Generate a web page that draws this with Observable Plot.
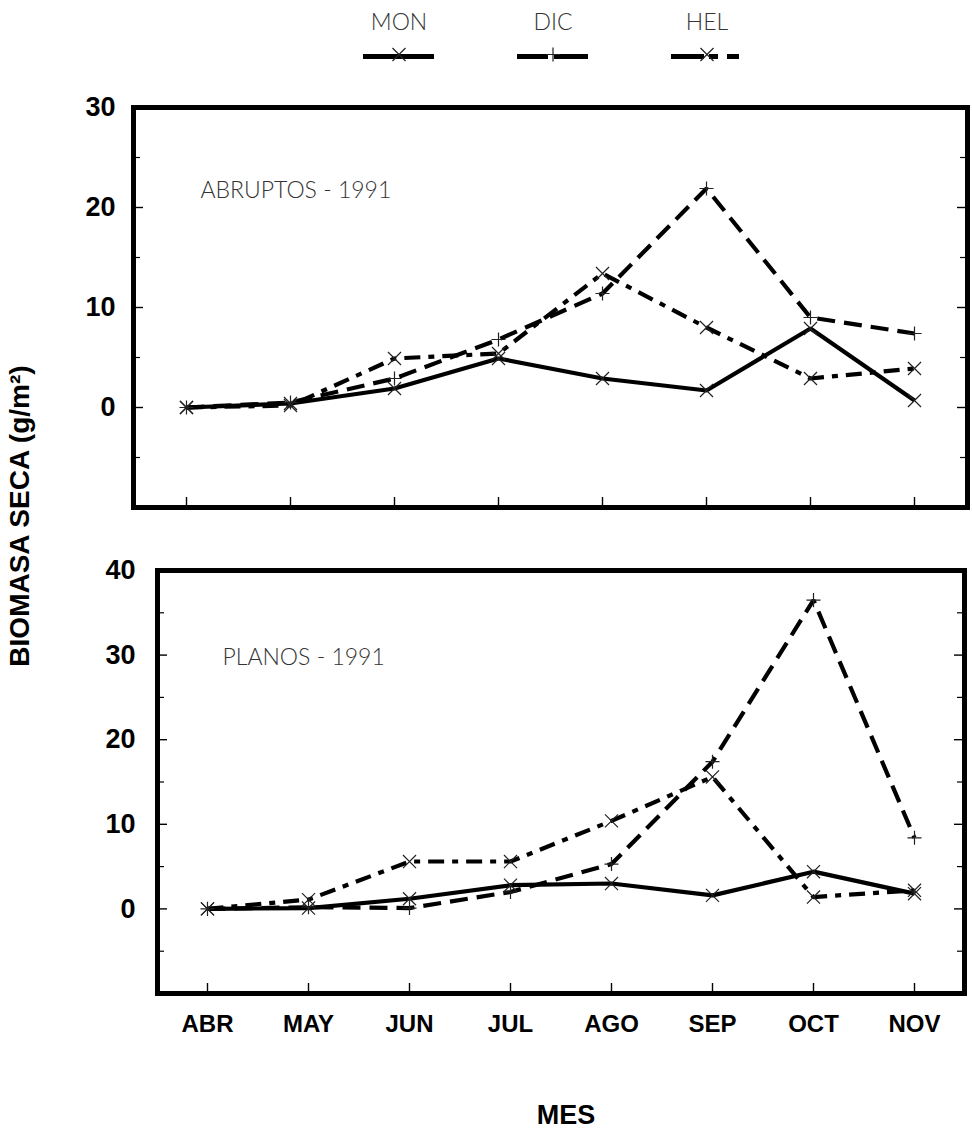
<!DOCTYPE html>
<html><head><meta charset="utf-8">
<script src="https://cdn.jsdelivr.net/npm/d3@7"></script>
<script src="https://cdn.jsdelivr.net/npm/@observablehq/plot@0.6"></script>
<style>
body{margin:0;background:#fff;}
#wrap{position:relative;width:972px;height:1132px;overflow:hidden;background:#fff;}
#wrap svg{position:absolute;left:0;}
#ytitle{position:absolute;left:20px;top:516px;transform:translate(-50%,-50%) rotate(-90deg);font:bold 28px "Liberation Sans",Arial,sans-serif;white-space:nowrap;color:#000;}
</style></head><body><div id="wrap"><div id="ytitle">BIOMASA SECA (g/m²)</div></div>
<script>
// ---- data ----
const months = ["ABR","MAY","JUN","JUL","AGO","SEP","OCT","NOV"];
const seriesNames = ["MON","DIC","HEL"];

const abruptosMON = [0, 0.4, 1.9, 4.9, 2.9, 1.7, 7.9, 0.7];
const abruptosDIC = [0, 0.5, 2.9, 6.8, 11.4, 21.9, 9.0, 7.4];
const abruptosHEL = [0, 0.2, 4.9, 5.4, 13.4, 8.0, 2.9, 3.9];

const planosMON = [0, 0.1, 1.2, 2.8, 3.0, 1.6, 4.4, 1.8];
const planosDIC = [0, 0.2, 0.1, 2.0, 5.3, 17.4, 36.5, 8.4];
const planosHEL = [0, 1.1, 5.6, 5.6, 10.4, 15.6, 1.4, 2.2];

const abruptosYLabels = [0, 10, 20, 30];
const planosYLabels = [0, 10, 20, 30, 40];
const abruptosMajor = [0, 10, 20];
const abruptosMinor = [-5, 5, 15, 25];
const planosMajor = [0, 10, 20, 30];
const planosMinor = [-5, 5, 15, 25, 35];

// ---- styles ----
const FONT = '"Liberation Sans", Arial, sans-serif';
const LIGHT = 'Lato, Roboto, "Open Sans", sans-serif';
const dash = {MON: null, DIC: "18,9", HEL: "16,8,6,8"};
const sym = {MON: "times", DIC: "plus", HEL: "times"};
const symR = {MON: 6, DIC: 4.6, HEL: 6};

const wrap = document.getElementById("wrap");

function rowsOf(mon, dic, hel) {
  const src = {MON: mon, DIC: dic, HEL: hel};
  return seriesNames.flatMap(s => months.map((m, i) => ({series: s, month: m, value: src[s][i]})));
}

function panel(o) {
  const rows = rowsOf(...o.values);
  const pw = o.width - o.ml - o.mr;
  const ph = o.height - o.mt - o.mb;
  const marks = [];
  const order = ["DIC", "HEL", "MON"];
  for (const s of order) {
    marks.push(Plot.line(rows.filter(d => d.series === s), {
      x: "month", y: "value", stroke: "black", strokeWidth: 4.2,
      strokeDasharray: dash[s] ?? undefined, strokeLinejoin: "miter", strokeLinecap: "butt"
    }));
  }
  for (const s of order) {
    marks.push(Plot.dot(rows.filter(d => d.series === s), {
      x: "month", y: "value", symbol: sym[s], r: symR[s], stroke: "#222", strokeWidth: 1.2
    }));
  }
  // inner ticks
  marks.push(Plot.tickY(o.major, {y: d => d, insetRight: pw - 10, strokeWidth: 1.4}));
  marks.push(Plot.tickY(o.major, {y: d => d, insetLeft: pw - 10, strokeWidth: 1.4}));
  marks.push(Plot.tickY(o.minor, {y: d => d, insetRight: pw - 7, strokeWidth: 1.2}));
  marks.push(Plot.tickY(o.minor, {y: d => d, insetLeft: pw - 7, strokeWidth: 1.2}));
  marks.push(Plot.tickX(months, {x: d => d, insetTop: ph - 10, strokeWidth: 1.4}));
  marks.push(Plot.frame({stroke: "black", strokeWidth: 5}));
  marks.push(Plot.axisY({ticks: o.yLabels, tickSize: 0, tickPadding: o.yPad, fontSize: 27, fontWeight: "bold", label: null, tickFormat: d => String(d)}));
  marks.push(Plot.text([o.label], {text: d => d, frameAnchor: "top-left", dx: o.labelDx, dy: o.labelDy,
    textAnchor: "start", lineAnchor: "middle", fontSize: 23, fontWeight: 300, fontFamily: LIGHT, fill: "#333"}));
  if (o.showX) {
    marks.push(Plot.axisX({tickSize: 0, tickPadding: 21, fontSize: 24, fontWeight: "bold", label: null}));
    marks.push(Plot.text(["MES"], {text: d => d, frameAnchor: "bottom", dx: 5, dy: 122, lineAnchor: "middle",
      fontSize: 27, fontWeight: "bold"}));
  }
  const chart = Plot.plot({
    width: o.width, height: o.height,
    marginTop: o.mt, marginBottom: o.mb, marginLeft: o.ml, marginRight: o.mr,
    style: {fontFamily: FONT, color: "black", background: "transparent", overflow: "visible"},
    x: {type: "point", domain: months, padding: 0.49, ...(o.showX ? {} : {axis: null})},
    y: {domain: o.yDomain},
    marks
  });
  chart.style.top = o.top + "px";
  return chart;
}

// legend
const legendRows = seriesNames.map(s => ({s, line: 0, lab: 1}));
const legendDash = {MON: null, DIC: "31,6,40", HEL: "33,5,9,9,12"};
const legendMarks = [];
for (const s of seriesNames) {
  const r = legendRows.filter(d => d.s === s);
  legendMarks.push(Plot.tickY(r, {x: "s", y: "line", stroke: "black", strokeWidth: 5, strokeDasharray: legendDash[s] ?? undefined}));
  legendMarks.push(Plot.dot(r, {x: "s", y: "line", symbol: sym[s], r: symR[s], stroke: "#222", strokeWidth: 1.2, dy: -2}));
}
legendMarks.push(Plot.text(legendRows, {x: "s", y: "lab", text: "s", fontSize: 23, fontWeight: 300, fontFamily: LIGHT, fill: "#333"}));
const legend = Plot.plot({
  width: 972, height: 80, margin: 0,
  style: {fontFamily: FONT, background: "transparent"},
  x: {type: "band", domain: seriesNames, range: [277.5, 826.5], padding: 0.542, axis: null},
  y: {domain: [0, 1], range: [56, 22], axis: null},
  marks: legendMarks
});
legend.style.top = "0px";
wrap.appendChild(legend);

wrap.appendChild(panel({
  values: [abruptosMON, abruptosDIC, abruptosHEL], yDomain: [-10, 30],
  yLabels: abruptosYLabels, major: abruptosMajor, minor: abruptosMinor,
  label: "ABRUPTOS - 1991", labelDx: 67, labelDy: 83,
  width: 972, height: 450, top: 80, mt: 27, mb: 23, ml: 133, mr: 5, yPad: 18, showX: false
}));

wrap.appendChild(panel({
  values: [planosMON, planosDIC, planosHEL], yDomain: [-10, 40],
  yLabels: planosYLabels, major: planosMajor, minor: planosMinor,
  label: "PLANOS - 1991", labelDx: 65, labelDy: 87,
  width: 972, height: 592, top: 540, mt: 30, mb: 139, ml: 157, mr: 8, yPad: 22, showX: true
}));
</script></body></html>
